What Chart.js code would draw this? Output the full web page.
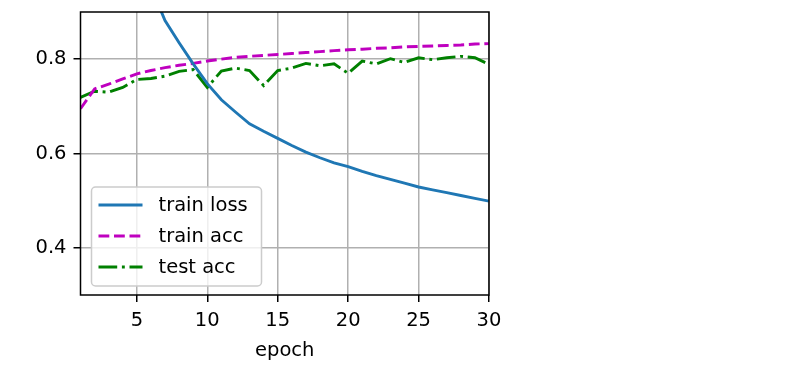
<!DOCTYPE html>
<html>
<head>
<meta charset="utf-8">
<script src="https://cdn.jsdelivr.net/npm/chart.js@4"></script>
<style>
  html, body { margin: 0; padding: 0; background: #ffffff; }
  canvas { display: block; }
</style>
</head>
<body>
<canvas id="c" width="789" height="378"></canvas>
<script>
const epochs = Array.from({length: 30}, (_, i) => i + 1);
const trainLoss = [1.60, 1.30, 1.15, 1.06, 1.00, 0.953, 0.882, 0.835, 0.790, 0.748,
                   0.714, 0.688, 0.663, 0.647, 0.632, 0.617, 0.603, 0.591, 0.580, 0.572,
                   0.562, 0.553, 0.545, 0.537, 0.529, 0.523, 0.517, 0.511, 0.505, 0.499];
const trainAcc = [0.695, 0.737, 0.747, 0.758, 0.769, 0.776, 0.782, 0.787, 0.791, 0.796,
                  0.800, 0.804, 0.806, 0.808, 0.810, 0.812, 0.814, 0.816, 0.818, 0.820,
                  0.821, 0.823, 0.824, 0.826, 0.827, 0.828, 0.829, 0.830, 0.832, 0.833];
const testAcc = [0.719, 0.732, 0.730, 0.740, 0.757, 0.759, 0.764, 0.774, 0.778, 0.740,
                 0.775, 0.781, 0.776, 0.744, 0.776, 0.781, 0.791, 0.786, 0.790, 0.770,
                 0.796, 0.790, 0.801, 0.793, 0.803, 0.799, 0.803, 0.806, 0.803, 0.789];
const xTicks = [5, 10, 15, 20, 25, 30];
const yTicks = [0.4, 0.6, 0.8];
const seriesNames = ['train loss', 'train acc', 'test acc'];
const xTitle = 'epoch';

const FONT = '"DejaVu Sans", "Liberation Sans", sans-serif';
const FS = 19.5;
const LW = 2.9;

const frame = {
  id: 'frame',
  afterDatasetsDraw(chart) {
    const a = chart.chartArea, ctx = chart.ctx;
    ctx.save();
    ctx.strokeStyle = '#000';
    ctx.lineWidth = 1.5;
    ctx.strokeRect(a.left, a.top, a.right - a.left, a.bottom - a.top);
    ctx.restore();
  },
  afterDraw(chart) {
    const a = chart.chartArea, ctx = chart.ctx;
    const x0 = a.left + 11, w = 170, h = 99;
    const y0 = a.bottom - 9 - h;
    ctx.save();
    ctx.beginPath();
    ctx.roundRect(x0, y0, w, h, 4);
    ctx.fillStyle = 'rgba(255,255,255,0.8)';
    ctx.fill();
    ctx.strokeStyle = '#cccccc';
    ctx.lineWidth = 1.5;
    ctx.stroke();
    ctx.font = FS + 'px ' + FONT;
    ctx.textBaseline = 'middle';
    ctx.fillStyle = '#000';
    chart.data.datasets.forEach((ds, i) => {
      const yy = y0 + 18 + i * 31;
      ctx.beginPath();
      ctx.setLineDash(ds.borderDash || []);
      ctx.strokeStyle = ds.borderColor;
      ctx.lineWidth = LW;
      ctx.moveTo(x0 + 7, yy);
      ctx.lineTo(x0 + 51, yy);
      ctx.stroke();
      ctx.setLineDash([]);
      ctx.fillText(ds.label, x0 + 67, yy + 1);
    });
    ctx.restore();
  }
};

new Chart(document.getElementById('c'), {
  type: 'line',
  data: {
    datasets: [
      { label: seriesNames[0], data: epochs.map((e, i) => ({x: e, y: trainLoss[i]})),
        borderColor: '#1f77b4', borderWidth: LW, pointRadius: 0, tension: 0 },
      { label: seriesNames[1], data: epochs.map((e, i) => ({x: e, y: trainAcc[i]})),
        borderColor: '#bf00bf', borderWidth: LW, borderDash: [10.8, 4.7], pointRadius: 0, tension: 0 },
      { label: seriesNames[2], data: epochs.map((e, i) => ({x: e, y: testAcc[i]})),
        borderColor: '#008000', borderWidth: LW, borderDash: [18.7, 4.7, 2.9, 4.7], pointRadius: 0, tension: 0 }
    ]
  },
  options: {
    responsive: false,
    animation: false,
    devicePixelRatio: 1,
    layout: { padding: { top: 12, right: 300, bottom: 15, left: 0 } },
    plugins: { legend: { display: false }, tooltip: { enabled: false } },
    scales: {
      x: {
        type: 'linear', min: 1, max: 30,
        afterBuildTicks: s => { s.ticks = xTicks.map(v => ({value: v})); },
        afterFit: s => { s.height = 68; s.paddingLeft = 0; s.paddingRight = 0; },
        grid: { color: '#b0b0b0', lineWidth: 1.5, tickLength: 7, tickColor: '#000', tickWidth: 1.5 },
        border: { display: false },
        ticks: { color: '#000', padding: 7, maxRotation: 0, font: { family: FONT, size: FS },
                 callback: v => String(v) },
        title: { display: true, text: xTitle, color: '#000', padding: 0,
                 font: { family: FONT, size: FS } }
      },
      y: {
        min: 0.3, max: 0.9,
        afterBuildTicks: s => { s.ticks = yTicks.map(v => ({value: v})); },
        afterFit: s => { s.width = 80.5; s.paddingTop = 0; s.paddingBottom = 0; },
        grid: { color: '#b0b0b0', lineWidth: 1.5, tickLength: 7, tickColor: '#000', tickWidth: 1.5 },
        border: { display: false },
        ticks: { color: '#000', padding: 7, font: { family: FONT, size: FS },
                 callback: v => Number(v).toFixed(1) }
      }
    }
  },
  plugins: [frame]
});
</script>
</body>
</html>
